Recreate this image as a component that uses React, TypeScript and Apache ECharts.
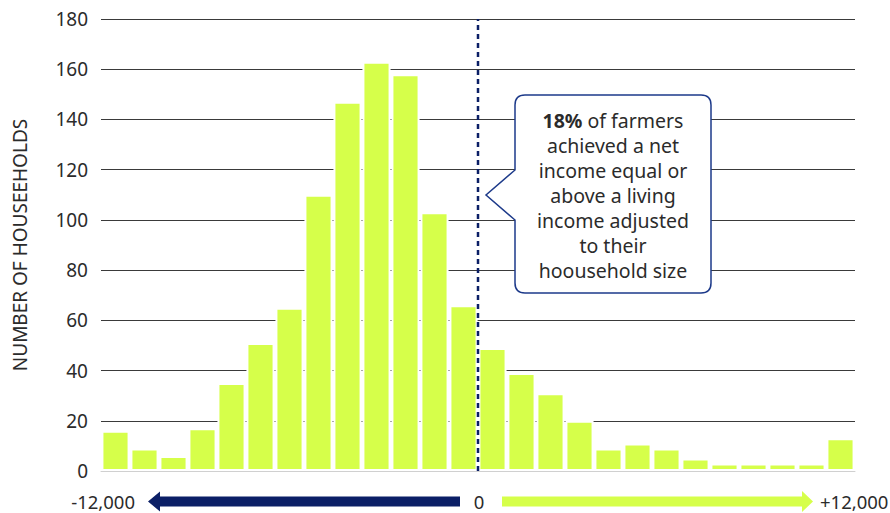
import React, { useEffect, useRef } from "react";
import * as echarts from "echarts";

const categories: string[] = Array.from({ length: 26 }, (_, i) => `B${i + 1}`);
const households: number[] = [16, 9, 6, 17, 35, 51, 65, 110, 147, 163, 158, 103, 66, 49, 39, 31, 20, 9, 11, 9, 5, 3, 3, 3, 3, 13];
const yTicks = { min: 0, max: 180, interval: 20 };
const thresholdLine: number[][] = [[13, 0], [13, 180]];
const scaleLabels: string[] = ["-12,000", "0", "+12,000"];
const yTitle = "NUMBER OF HOUSEEHOLDS";
const calloutLines: string[] = [
  "{b|18%} of farmers",
  "achieved a net",
  "income equal or",
  "above a living",
  "income adjusted",
  "to their",
  "hoousehold size",
];

const FONT = "'Noto Sans', sans-serif";
const NAVY = "#0b1f66";
const GREEN = "#d6ff4a";
const TEXT = "#2b2b2b";

const calloutPath =
  "M525,95 H701 Q711,95 711,105 V283 Q711,293 701,293 H525 Q515,293 515,283 V220 L486,195 L515,170 V105 Q515,95 525,95 Z";

let registered = false;

export default function App() {
  const ref = useRef<HTMLDivElement>(null);
  useEffect(() => {
    if (!registered) {
      echarts.graphic.registerShape("callout", echarts.graphic.extendPath(calloutPath, {}) as any);
      registered = true;
    }
    const chart = echarts.init(ref.current!, null, { renderer: "svg" });
    const labelStyle = { verticalAlign: "middle", fontFamily: FONT, fontSize: 18.5, lineHeight: 20, fill: TEXT };
    chart.setOption({
      animation: false,
      backgroundColor: "#ffffff",
      grid: { left: 101, right: 35, top: 19, bottom: 42 },
      xAxis: [
        {
          type: "category",
          data: categories,
          axisLine: { show: true, lineStyle: { color: "#d0d0d0", width: 1 } },
          axisTick: { show: false },
          axisLabel: { show: false },
        },
        { type: "value", min: 0, max: 26, show: false },
      ],
      yAxis: {
        type: "value",
        min: yTicks.min,
        max: yTicks.max,
        interval: yTicks.interval,
        name: yTitle,
        nameLocation: "middle",
        nameRotate: 90,
        nameGap: 72,
        nameTextStyle: { fontFamily: FONT, fontSize: 19, color: TEXT },
        axisLine: { show: false },
        axisTick: { show: false },
        axisLabel: { fontFamily: FONT, fontSize: 19, color: TEXT, margin: 13 },
        splitLine: { lineStyle: { color: "#3a3a3a", width: 1 } },
      },
      series: [
        {
          type: "bar",
          data: households,
          barCategoryGap: "3%",
          itemStyle: { color: GREEN, borderColor: "#ffffff", borderWidth: 2 },
          z: 2,
        },
        {
          type: "line",
          xAxisIndex: 1,
          data: thresholdLine,
          symbol: "none",
          lineStyle: { color: NAVY, width: 2.5, type: [5, 4] },
          z: 3,
        },
      ],
      graphic: [
        {
          type: "callout",
          x: 0,
          y: 0,
          scaleX: 1,
          scaleY: 1,
          z: 10,
          style: { fill: "#ffffff", stroke: "#1d3a8a", lineWidth: 1.5 },
        },
        {
          type: "text",
          x: 613,
          y: 195,
          z: 11,
          style: {
            text: calloutLines.join("\n"),
            align: "center",
            verticalAlign: "middle",
            fontFamily: FONT,
            fontSize: 19.5,
            lineHeight: 25,
            fill: TEXT,
            rich: {
              b: { fontFamily: FONT, fontSize: 19.5, lineHeight: 25, fontWeight: "bold", fill: TEXT },
            },
          },
        },
        {
          type: "polygon",
          z: 10,
          shape: {
            points: [
              [148, 501.5], [160, 491.5], [160, 496.5], [460, 496.5], [460, 506.5], [160, 506.5], [160, 511.5],
            ],
          },
          style: { fill: NAVY },
        },
        {
          type: "polygon",
          z: 10,
          shape: {
            points: [
              [502, 496.5], [802, 496.5], [802, 491], [813, 501.5], [802, 512], [802, 506.5], [502, 506.5],
            ],
          },
          style: { fill: GREEN },
        },
        {
          type: "text",
          x: 135,
          y: 501,
          style: { ...labelStyle, text: scaleLabels[0], align: "right" },
        },
        {
          type: "text",
          x: 479,
          y: 501,
          style: { ...labelStyle, text: scaleLabels[1], align: "center" },
        },
        {
          type: "text",
          x: 820,
          y: 501,
          style: { ...labelStyle, text: scaleLabels[2], align: "left" },
        },
      ],
    });
    return () => chart.dispose();
  }, []);
  return <div ref={ref} style={{ width: 890, height: 513, position: "fixed", left: 0, top: 0 }} />;
}
